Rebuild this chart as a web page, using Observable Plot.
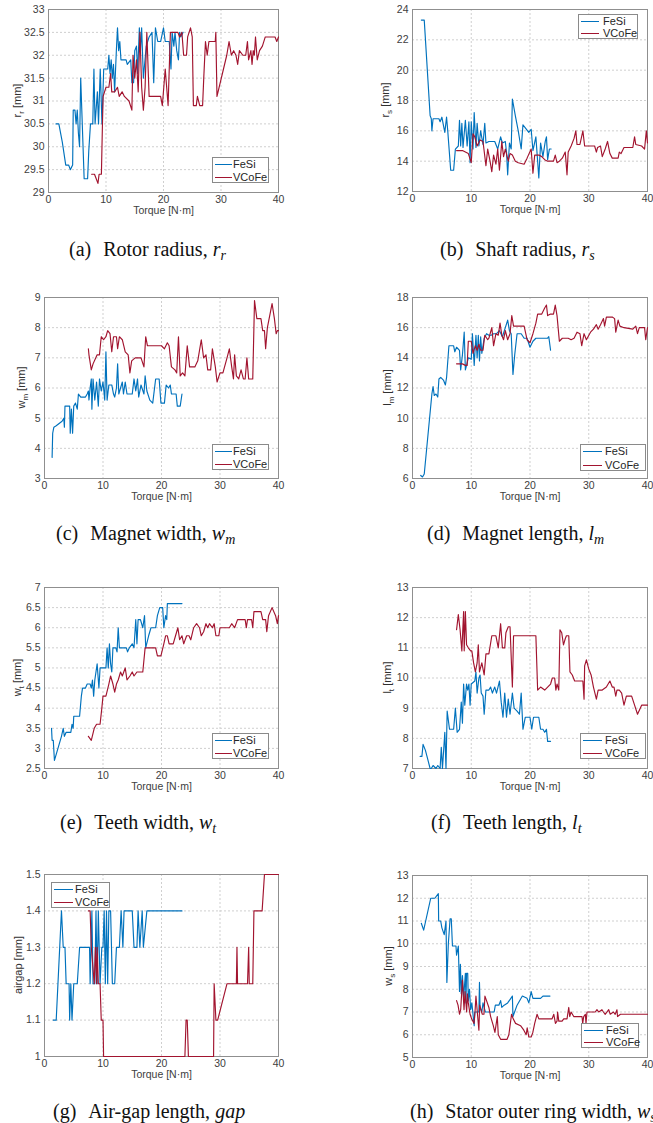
<!DOCTYPE html>
<html><head><meta charset="utf-8">
<script src="https://cdn.jsdelivr.net/npm/d3@7"></script>
<script src="https://cdn.jsdelivr.net/npm/@observablehq/plot@0.6"></script>
<style>
body{margin:0;background:#fff;}
#root{position:relative;width:653px;height:1123px;overflow:hidden;background:#fff;}
.cap{position:absolute;font-family:"Liberation Serif","Times New Roman",serif;font-size:20px;color:#111;white-space:nowrap;line-height:20px;}
.cap sub{font-size:14px;vertical-align:-4px;line-height:0;}
.leg{position:absolute;background:#fff;border:1px solid #8a8a8a;box-sizing:border-box;font-family:"Liberation Sans",Arial,sans-serif;font-size:11px;color:#262626;}
.leg .ln{position:absolute;height:0;border-top:1.3px solid;}
.leg .tx{position:absolute;line-height:12px;margin-top:-6px;white-space:nowrap;}
</style></head>
<body><div id="root"></div>
<script>
// ---------- data ----------
const seriesNames = ["FeSi", "VCoFe"];
const seriesColors = ["#0072BD", "#A2142F"];
const xTicks = [0, 10, 20, 30, 40];
const xLabel = "Torque [N·m]";

const rrTicks = [29, 29.5, 30, 30.5, 31, 31.5, 32, 32.5, 33];
const rsTicks = [12, 14, 16, 18, 20, 22, 24];
const wmTicks = [3, 4, 5, 6, 7, 8, 9];
const lmTicks = [6, 8, 10, 12, 14, 16, 18];
const wtTicks = [2.5, 3, 3.5, 4, 4.5, 5, 5.5, 6, 6.5, 7];
const ltTicks = [7, 8, 9, 10, 11, 12, 13];
const gapTicks = [1, 1.1, 1.2, 1.3, 1.4, 1.5];
const wsTicks = [5, 6, 7, 8, 9, 10, 11, 12, 13];

const rrFeSi = [[1.3,30.5],[1.8,30.5],[2.4,30.1],[3.0,29.6],[3.5,29.6],[3.8,29.5],[4.2,29.6],[4.3,30.8],[4.6,30.8],[4.8,30.5],[5.0,30.8],[5.2,30.3],[5.4,30.0],[5.6,31.5],[6.2,29.3],[6.8,29.3],[7.0,29.9],[7.3,30.5],[7.7,30.5],[7.9,31.7],[8.1,30.5],[8.5,31.2],[8.7,30.5],[9.0,31.7],[9.3,30.5],[9.6,31.7],[10.3,31.7],[10.5,32.0],[10.7,31.6],[10.9,31.9],[11.1,31.5],[11.3,31.8],[11.5,31.2],[11.8,32.1],[12.0,32.6],[12.2,32.1],[12.4,32.3],[12.6,31.9],[13.5,31.9],[13.7,31.8],[14.3,31.9],[14.5,31.4],[14.8,31.4],[15.0,32.1],[15.3,32.2],[15.5,31.6],[15.8,32.6],[16.0,32.1],[16.2,32.6],[16.5,31.5],[17.0,32.2],[17.5,32.4],[18.0,32.5],[18.3,31.4],[18.6,32.6],[19.0,32.3],[19.5,32.3],[20.0,32.6],[20.3,32.3],[21.0,32.3],[21.3,31.7],[21.5,32.5],[21.8,32.2],[22.0,32.5],[22.3,32.1],[22.6,31.9],[22.8,32.5],[23.0,32.4],[23.4,32.5]];
const rrVCoFe = [[7.5,29.4],[8.0,29.4],[8.3,29.3],[8.6,29.2],[8.8,29.4],[9.2,29.4],[9.4,30.6],[9.5,31.1],[10.0,31.3],[10.5,31.3],[10.8,31.6],[11.0,31.2],[11.5,31.2],[12.0,31.3],[12.3,31.1],[12.8,31.2],[13.2,31.1],[14.0,31.0],[14.5,30.8],[14.7,32.0],[15.0,31.5],[15.3,31.9],[15.6,31.2],[15.9,32.5],[16.2,31.3],[16.5,30.8],[16.8,31.3],[17.1,32.5],[17.5,31.1],[18.0,31.1],[19.5,31.1],[19.8,30.9],[20.3,31.7],[20.8,30.9],[21.2,32.5],[22.5,32.5],[22.8,32.4],[23.2,32.5],[23.5,32.0],[24.0,32.0],[24.2,32.4],[24.7,32.6],[25.0,32.4],[25.2,30.9],[25.7,30.9],[25.9,31.1],[26.3,30.9],[26.8,30.9],[27.0,31.5],[27.3,32.3],[27.6,32.0],[27.9,32.3],[29.0,32.3],[29.1,32.5],[29.3,31.1],[31.0,32.0],[31.4,32.3],[31.8,32.0],[32.2,32.1],[32.6,32.0],[32.9,31.8],[33.2,32.1],[33.8,32.0],[34.3,32.0],[34.6,32.3],[34.8,31.9],[35.2,32.1],[35.4,31.8],[35.6,32.1],[35.8,32.0],[36.0,32.4],[36.3,31.9],[36.7,32.1],[37.2,32.2],[37.7,32.4],[39.4,32.4],[39.7,32.3],[40.0,32.4]];

const rsFeSi = [[1.5,23.3],[2.0,23.3],[3.0,17.0],[3.2,16.8],[3.3,16.0],[3.5,16.8],[4.5,16.8],[4.7,16.6],[5.0,16.9],[5.3,16.3],[5.5,15.9],[5.8,16.9],[6.0,16.0],[6.5,13.4],[7.0,13.4],[7.3,14.8],[7.8,15.0],[8.0,16.7],[8.2,15.0],[8.4,16.5],[8.6,14.9],[9.0,16.7],[9.3,15.0],[9.6,16.6],[9.8,13.9],[10.0,16.6],[10.3,14.8],[10.5,17.2],[10.8,14.9],[11.0,16.5],[11.3,15.0],[11.6,16.0],[12.0,15.1],[12.3,16.5],[12.5,15.2],[13.0,15.3],[14.0,15.3],[14.5,14.8],[15.0,15.6],[15.3,15.2],[15.8,15.3],[16.0,14.6],[16.2,13.1],[16.5,15.2],[16.8,14.8],[17.0,18.1],[17.5,17.0],[18.0,16.0],[18.5,14.8],[18.8,16.4],[19.2,16.2],[19.8,15.9],[20.2,16.1],[20.5,14.7],[21.0,15.6],[21.3,14.0],[21.5,12.9],[21.8,15.2],[22.2,14.3],[22.6,15.3],[22.8,15.6],[23.0,14.1],[23.3,14.8],[23.6,14.8]];
const rsVCoFe = [[7.5,14.7],[8.5,14.7],[9.5,14.5],[10.0,13.9],[10.3,15.8],[10.6,15.6],[11.0,15.0],[11.5,15.4],[12.0,15.3],[12.5,13.7],[12.8,14.8],[13.2,14.0],[13.5,13.3],[13.8,14.4],[14.2,13.8],[14.5,14.8],[14.8,13.4],[15.2,15.3],[15.5,14.3],[15.8,14.8],[16.3,14.0],[16.6,14.5],[17.0,14.4],[17.5,14.0],[18.0,13.9],[19.0,13.8],[19.5,14.2],[20.2,14.8],[20.5,13.2],[20.8,14.4],[21.5,14.4],[22.0,14.3],[22.5,14.1],[23.0,14.0],[24.0,14.0],[24.3,14.4],[24.6,13.9],[25.0,14.0],[25.5,14.2],[26.0,14.6],[26.3,13.1],[26.5,14.6],[27.0,15.0],[27.5,15.5],[27.8,16.0],[28.0,15.1],[28.5,15.1],[29.0,16.0],[29.3,15.0],[30.0,15.0],[31.0,15.0],[31.3,14.6],[31.5,14.9],[32.0,15.0],[32.3,14.3],[32.8,14.8],[33.2,15.3],[33.6,14.5],[34.0,14.2],[35.0,14.2],[35.2,14.6],[35.5,14.5],[36.0,14.9],[37.5,14.9],[37.8,15.6],[38.0,15.1],[39.0,15.0],[39.5,14.8],[39.8,16.0],[40.0,15.2]];

const wmFeSi = [[1.3,3.7],[1.4,4.5],[1.6,4.7],[2.0,4.75],[3.0,4.9],[3.3,5.0],[3.4,4.7],[3.5,5.4],[4.3,5.4],[4.4,4.5],[4.6,5.3],[4.8,4.5],[5.0,5.4],[5.3,5.5],[5.6,5.3],[5.8,5.8],[6.2,5.7],[7.0,5.7],[7.3,5.8],[7.5,5.9],[7.6,5.6],[7.8,6.0],[8.0,6.3],[8.1,5.3],[8.3,6.3],[8.6,5.6],[8.9,6.2],[9.2,5.4],[9.4,6.3],[9.7,5.9],[10.0,6.2],[10.3,5.6],[10.5,7.2],[10.7,5.6],[11.0,6.1],[11.5,6.1],[11.8,5.8],[12.0,5.7],[12.3,6.0],[12.5,6.8],[12.7,5.8],[13.0,6.0],[13.3,6.2],[13.5,5.8],[13.8,6.2],[14.1,5.8],[15.0,5.8],[15.3,6.3],[15.6,5.9],[15.9,6.3],[16.1,5.7],[16.5,6.1],[17.0,5.8],[17.2,6.4],[17.5,5.9],[18.0,5.6],[18.5,5.5],[19.0,6.3],[19.6,6.3],[19.9,5.5],[20.5,5.5],[20.8,6.1],[21.2,6.0],[21.5,6.1],[21.7,5.8],[22.5,5.8],[22.7,5.4],[23.2,5.4],[23.5,5.8]];
const wmVCoFe = [[7.5,7.3],[7.6,7.1],[8.0,6.6],[8.3,6.8],[9.0,7.1],[9.4,7.1],[9.7,7.7],[10.1,7.6],[10.5,7.7],[10.8,7.9],[11.2,7.8],[11.5,7.2],[11.8,7.7],[12.3,7.7],[12.5,7.3],[12.8,7.7],[13.3,7.6],[13.8,7.2],[14.3,7.1],[14.6,6.5],[14.9,6.9],[15.5,7.0],[16.5,7.0],[17.0,6.7],[17.3,7.7],[17.6,7.4],[20.0,7.4],[20.5,7.3],[21.0,7.5],[21.3,7.4],[21.7,6.7],[22.3,6.6],[22.6,6.5],[22.9,7.7],[23.2,6.4],[23.6,6.5],[24.0,6.4],[24.4,7.4],[24.8,6.7],[25.7,6.7],[26.2,6.9],[26.8,7.6],[27.2,7.0],[27.6,7.1],[27.9,6.6],[28.4,6.6],[28.7,7.3],[29.2,6.7],[29.5,6.2],[30.0,6.5],[30.5,6.5],[31.2,7.0],[31.6,7.3],[32.0,6.7],[32.3,6.3],[32.5,7.1],[32.8,6.4],[33.2,6.3],[33.6,6.6],[34.0,6.3],[34.3,6.3],[34.6,7.0],[34.9,6.3],[35.6,6.3],[35.9,8.9],[36.3,8.3],[37.0,8.3],[37.3,7.9],[37.6,7.9],[37.8,7.3],[38.1,8.0],[38.9,8.8],[39.3,8.3],[39.6,7.8],[39.8,7.9],[40.0,7.9]];

const lmFeSi = [[1.4,6.2],[1.7,6.1],[2.0,6.3],[3.3,11.6],[3.5,12.1],[3.7,11.5],[4.0,11.6],[4.3,11.4],[4.5,12.6],[4.8,12.7],[5.3,12.5],[5.6,12.2],[5.8,12.7],[6.2,14.8],[6.8,14.8],[7.0,14.8],[7.2,14.4],[7.5,14.7],[8.0,14.5],[8.2,13.2],[8.5,14.2],[8.8,15.7],[9.0,13.2],[9.2,13.5],[9.5,14.0],[10.0,13.9],[10.2,15.6],[10.5,13.5],[10.8,15.5],[11.0,14.0],[11.2,15.5],[11.4,13.8],[11.6,15.4],[11.8,14.3],[12.2,15.3],[12.6,15.6],[13.0,15.5],[13.4,15.5],[13.8,15.6],[14.3,15.6],[14.8,15.8],[15.3,15.4],[15.8,16.0],[16.2,16.5],[16.5,15.8],[16.8,15.6],[17.1,12.9],[17.4,14.2],[17.8,15.6],[18.5,15.6],[19.0,15.3],[19.5,15.3],[20.0,14.7],[20.5,15.1],[21.0,15.3],[23.0,15.3],[23.2,15.4],[23.5,14.5]];
const lmVCoFe = [[7.5,13.6],[8.5,13.6],[9.0,13.5],[9.3,13.5],[9.5,15.1],[10.0,15.1],[10.3,14.3],[10.7,14.8],[11.0,14.5],[11.3,14.9],[11.6,14.5],[12.0,14.5],[12.3,15.5],[12.8,15.2],[13.0,15.3],[13.5,16.0],[13.8,14.8],[14.2,15.6],[14.6,15.5],[14.9,16.3],[15.2,15.5],[15.5,15.2],[15.8,15.8],[16.2,15.2],[16.6,15.6],[16.9,16.8],[17.2,16.1],[19.0,16.1],[19.5,15.2],[20.0,15.0],[20.5,15.6],[21.0,16.3],[21.3,16.9],[22.0,16.9],[22.5,17.3],[22.8,17.5],[23.0,16.8],[23.5,16.9],[24.0,16.9],[24.3,17.5],[24.6,16.8],[25.0,15.1],[25.5,15.3],[26.5,15.3],[27.0,15.2],[27.5,15.3],[28.0,15.7],[28.5,15.6],[28.8,14.8],[29.2,15.6],[29.6,15.2],[30.3,15.7],[30.8,15.9],[31.3,16.2],[31.6,15.9],[32.0,16.2],[32.5,16.6],[32.7,16.1],[33.0,16.7],[34.0,16.7],[34.4,16.6],[34.6,15.7],[35.0,16.5],[35.3,16.1],[36.0,16.0],[37.5,15.9],[38.0,16.1],[38.3,15.6],[38.6,16.0],[39.5,16.0],[39.7,15.2],[40.0,16.0]];

const wtFeSi = [[1.2,3.5],[1.3,3.2],[1.5,3.2],[1.7,2.7],[2.1,2.9],[2.5,3.1],[2.9,3.3],[3.2,3.5],[3.4,3.3],[3.7,3.4],[4.5,3.4],[4.7,3.6],[4.9,3.5],[5.0,3.8],[6.0,3.8],[6.3,4.3],[6.5,4.5],[7.0,4.5],[7.3,4.6],[7.8,4.6],[8.0,4.5],[8.2,4.7],[8.4,4.3],[8.6,4.7],[9.0,5.1],[9.3,4.5],[9.5,5.0],[10.5,5.0],[10.7,5.5],[10.9,5.0],[11.1,5.6],[11.3,5.1],[11.5,4.9],[11.7,5.5],[12.2,5.5],[12.4,5.4],[12.6,6.0],[12.8,5.5],[14.0,5.5],[14.2,5.4],[14.5,5.5],[15.0,5.6],[15.3,5.5],[15.6,6.2],[15.8,5.6],[16.0,6.2],[16.4,6.2],[16.8,6.0],[17.1,6.3],[17.3,5.5],[17.8,5.8],[18.2,6.0],[19.0,6.0],[19.3,6.3],[19.7,6.5],[20.2,6.5],[20.4,6.0],[20.7,6.3],[20.9,6.2],[21.0,6.6],[23.5,6.6]];
const wtVCoFe = [[7.5,3.3],[8.0,3.2],[8.5,3.5],[8.9,3.6],[9.5,3.6],[9.8,4.0],[10.0,4.3],[10.5,4.3],[11.0,4.6],[11.3,4.8],[11.7,4.6],[12.0,4.4],[12.3,4.6],[12.6,4.7],[13.0,4.9],[13.3,4.8],[13.8,5.0],[14.1,4.7],[14.6,4.8],[15.0,4.9],[15.3,4.8],[15.8,4.9],[16.8,4.9],[17.2,5.5],[19.0,5.5],[19.3,5.3],[19.9,5.3],[20.4,5.6],[20.7,5.8],[21.0,5.8],[21.3,5.6],[22.0,5.6],[22.4,5.8],[22.8,6.0],[23.1,5.7],[23.5,5.8],[23.8,5.6],[24.3,5.8],[24.7,5.8],[25.0,5.7],[25.5,6.0],[26.0,6.1],[26.5,6.0],[26.8,5.8],[27.2,5.9],[27.6,6.1],[27.9,6.0],[28.2,6.1],[28.7,6.0],[29.0,6.1],[29.3,5.8],[29.8,5.8],[30.0,6.0],[31.6,6.0],[32.0,6.1],[32.5,6.0],[33.0,6.2],[34.3,6.2],[34.5,6.0],[34.7,6.2],[35.4,6.2],[35.6,6.0],[35.8,6.4],[37.0,6.4],[37.3,6.2],[37.8,6.2],[38.0,5.9],[38.3,6.3],[38.9,6.5],[39.5,6.3],[39.8,6.1],[40.0,6.3]];

const ltFeSi = [[1.3,7.4],[1.6,7.4],[1.8,7.8],[2.2,7.6],[2.6,7.3],[3.0,7.0],[3.2,7.0],[3.5,7.1],[4.0,7.0],[4.3,7.1],[4.7,7.0],[4.9,7.7],[5.1,7.0],[5.5,8.2],[5.7,7.0],[5.9,8.9],[6.3,8.3],[7.0,8.3],[7.3,9.0],[7.6,8.2],[8.0,8.3],[8.3,9.2],[8.5,8.5],[8.7,9.8],[8.9,9.1],[9.2,9.8],[9.4,9.6],[9.6,9.8],[9.8,9.1],[10.0,9.8],[10.6,9.9],[10.8,10.2],[11.0,9.5],[11.3,10.0],[11.5,10.1],[11.7,9.5],[12.0,9.4],[12.2,8.8],[12.5,9.6],[13.0,9.6],[13.3,9.7],[13.6,9.5],[14.0,9.7],[14.3,9.5],[14.8,9.9],[15.1,9.2],[15.4,8.7],[15.7,9.5],[16.0,8.7],[16.3,9.3],[16.6,8.8],[17.0,9.5],[17.3,9.0],[17.8,8.9],[18.2,8.8],[18.5,9.5],[18.8,8.3],[19.2,8.7],[20.0,8.7],[20.3,8.3],[20.6,8.7],[21.5,8.7],[21.8,8.3],[22.2,8.3],[22.5,8.2],[22.8,8.3],[23.0,7.9],[23.5,7.9]];
const ltVCoFe = [[7.5,11.6],[7.8,12.1],[8.1,11.6],[8.4,10.9],[8.7,12.2],[8.8,10.9],[9.0,12.2],[9.2,11.1],[9.5,11.0],[9.9,10.9],[10.1,10.9],[10.4,10.5],[10.7,10.2],[11.0,10.5],[11.2,11.1],[11.4,10.2],[11.8,10.5],[12.2,10.1],[12.5,10.8],[13.0,10.8],[13.5,11.4],[14.2,11.4],[14.6,11.0],[15.0,11.8],[15.3,11.0],[15.7,11.0],[15.9,11.5],[16.3,11.7],[16.6,11.7],[17.0,9.7],[17.2,11.4],[21.0,11.4],[21.3,9.6],[21.8,9.7],[22.5,9.6],[23.0,9.7],[23.5,9.8],[23.8,10.0],[24.2,10.0],[24.4,9.6],[24.6,9.8],[24.9,9.6],[25.1,11.6],[25.4,11.5],[25.7,11.1],[26.0,11.3],[26.2,11.4],[26.6,11.4],[26.8,10.2],[27.2,10.1],[27.6,9.9],[29.0,9.9],[29.2,9.3],[29.3,10.4],[29.6,10.6],[30.0,10.3],[30.4,10.1],[30.8,9.7],[31.3,9.3],[31.6,9.6],[32.3,9.6],[33.0,9.7],[33.6,9.9],[34.0,9.7],[34.3,9.7],[34.6,9.4],[34.8,9.6],[35.2,9.6],[35.6,9.5],[36.0,9.1],[36.4,9.4],[37.3,9.4],[37.8,9.1],[38.3,8.8],[39.0,9.1],[40.0,9.1]];

const gapFeSi = [[1.5,1.1],[2.0,1.1],[2.9,1.4],[3.2,1.3],[3.5,1.3],[3.7,1.2],[4.2,1.2],[4.3,1.1],[4.5,1.2],[4.7,1.1],[5.0,1.2],[5.6,1.2],[6.0,1.3],[7.7,1.3],[7.8,1.2],[8.1,1.4],[8.3,1.2],[8.6,1.2],[8.8,1.4],[9.0,1.2],[9.2,1.4],[9.5,1.2],[9.8,1.3],[10.0,1.3],[10.2,1.4],[10.4,1.2],[10.6,1.4],[10.8,1.2],[11.0,1.4],[11.3,1.4],[11.6,1.2],[12.0,1.2],[12.3,1.3],[12.8,1.3],[13.1,1.4],[13.4,1.3],[13.6,1.4],[15.0,1.4],[15.3,1.3],[15.8,1.3],[16.0,1.4],[16.3,1.3],[16.7,1.4],[16.9,1.3],[17.5,1.4],[18.0,1.4],[23.5,1.4]];
const gapVCoFe = [[7.5,1.4],[7.8,1.4],[8.0,1.3],[8.5,1.2],[8.7,1.3],[8.9,1.2],[9.0,1.3],[9.2,1.2],[9.5,1.2],[9.7,1.1],[10.0,1.1],[10.1,1.0],[24.0,1.0],[24.2,1.1],[24.4,1.1],[24.6,1.0],[28.9,1.0],[29.0,1.2],[29.3,1.1],[29.6,1.1],[31.2,1.2],[32.8,1.2],[32.9,1.3],[33.0,1.2],[34.7,1.2],[34.9,1.3],[35.0,1.2],[35.6,1.2],[35.8,1.4],[37.2,1.4],[37.6,1.5],[40.0,1.5]];

const wsFeSi = [[1.5,10.9],[1.9,10.6],[3.1,12.0],[3.8,12.0],[4.4,12.2],[4.45,11.0],[4.8,11.0],[5.0,10.7],[5.4,10.4],[5.7,11.0],[5.85,8.3],[6.1,10.0],[6.4,11.1],[6.6,11.1],[6.8,9.9],[7.4,9.9],[7.5,9.5],[7.8,9.9],[8.0,7.9],[8.15,9.1],[8.3,7.8],[8.5,8.6],[8.7,7.6],[9.0,8.7],[9.1,7.4],[9.2,8.7],[9.4,8.7],[9.5,7.5],[9.7,8.0],[9.9,7.1],[10.1,7.4],[10.5,6.4],[10.6,7.0],[10.9,7.0],[11.3,7.0],[11.4,8.3],[11.5,7.2],[11.8,7.0],[12.0,7.4],[12.4,7.0],[13.9,7.0],[14.1,7.3],[14.7,7.3],[15.0,7.5],[15.2,7.2],[15.6,7.3],[16.2,7.4],[17.0,7.7],[17.1,6.8],[17.8,7.3],[18.7,7.7],[19.5,7.6],[19.8,7.4],[20.2,7.9],[20.5,7.6],[21.8,7.6],[22.2,7.7],[23.4,7.7]];
const wsVCoFe = [[7.5,7.5],[7.75,7.3],[8.0,6.9],[8.2,7.1],[8.5,8.4],[8.77,7.1],[8.94,7.9],[9.22,7.0],[9.34,7.8],[9.5,7.4],[9.8,6.9],[10.07,6.7],[10.47,6.5],[10.64,7.0],[10.8,7.7],[11.03,7.0],[11.3,6.2],[11.43,7.3],[11.88,6.9],[12.16,6.9],[12.33,7.7],[12.6,7.5],[13.0,7.2],[13.3,6.8],[13.75,6.4],[14.03,6.1],[14.43,6.8],[14.6,6.0],[15.0,5.8],[16.1,5.8],[16.4,6.0],[16.86,6.9],[17.14,6.7],[17.54,6.5],[18.39,6.4],[18.95,6.2],[19.35,6.0],[19.52,6.3],[19.8,5.9],[20.2,5.9],[20.48,6.1],[20.8,6.5],[21.2,6.9],[21.5,6.7],[23.76,6.7],[24.05,6.9],[24.33,6.5],[24.6,6.6],[24.7,7.0],[24.9,6.6],[25.46,6.6],[25.74,6.7],[26.3,6.7],[26.6,7.2],[26.76,6.8],[26.99,7.0],[27.44,6.8],[28.85,6.8],[28.97,6.5],[29.14,6.8],[29.42,6.9],[29.53,6.5],[29.7,7.0],[31.1,7.0],[31.4,7.1],[31.7,7.0],[32.25,7.1],[32.5,7.0],[32.8,6.9],[33.4,7.1],[33.66,6.9],[34.2,7.0],[34.5,6.9],[34.8,7.1],[34.9,6.8],[35.4,6.9],[40.0,6.9]];

// ---------- layout ----------
const panels = [
  {col:0, pl:48, pt:9,   pb:192, dom:[29,33],   ticks:rrTicks,  fe:rrFeSi,  vc:rrVCoFe,  yl:["r","r"], ylx:17, leg:[212,157,57,26,17,21], cap:[69,249,"(a)","Rotor radius,",'<i>r</i><sub><i>r</i></sub>']},
  {col:1, pl:412,pt:9,   pb:191, dom:[12,24],   ticks:rsTicks,  fe:rsFeSi,  vc:rsVCoFe,  yl:["r","s"], ylx:385, leg:[578,14,60,25,18,25], cap:[440,249,"(b)","Shaft radius,",'<i>r</i><sub><i>s</i></sub>']},
  {col:0, pl:44, pt:297, pb:478, dom:[3,9],     ticks:wmTicks,  fe:wmFeSi,  vc:wmVCoFe,  yl:["w","m"], ylx:21, leg:[212,444,57,26,17,21], cap:[56,533,"(c)","Magnet width,",'<i>w</i><sub><i>m</i></sub>']},
  {col:1, pl:412,pt:297, pb:478, dom:[6,18],    ticks:lmTicks,  fe:lmFeSi,  vc:lmVCoFe,  yl:["l","m"], ylx:387, leg:[580,444,66,27,19,25], cap:[427,533,"(d)","Magnet length,",'<i>l</i><sub><i>m</i></sub>']},
  {col:0, pl:44, pt:587, pb:768, dom:[2.5,7],   ticks:wtTicks,  fe:wtFeSi,  vc:wtVCoFe,  yl:["w","t"], ylx:17, leg:[212,733,57,26,17,21], cap:[60,822,"(e)","Teeth width,",'<i>w</i><sub><i>t</i></sub>']},
  {col:1, pl:412,pt:587, pb:768, dom:[7,13],    ticks:ltTicks,  fe:ltFeSi,  vc:ltVCoFe,  yl:["l","t"], ylx:387, leg:[580,733,66,26,19,25], cap:[431,822,"(f)","Teeth length,",'<i>l</i><sub><i>t</i></sub>']},
  {col:0, pl:44, pt:874, pb:1056,dom:[1,1.5],   ticks:gapTicks, fe:gapFeSi, vc:gapVCoFe, yl:["airgap",""], ylx:18, leg:[51,882,59,26,19,24], cap:[53,1111,"(g)","Air-gap length,",'<i>gap</i>']},
  {col:1, pl:412,pt:875, pb:1057,dom:[5,13],    ticks:wsTicks,  fe:wsFeSi,  vc:wsVCoFe,  yl:["w","s"], ylx:388, leg:[581,1023,58,25,19,25], cap:[410,1111,"(h)","Stator outer ring width,",'<i>w</i><sub><i>s</i></sub>']}
];

const root = document.getElementById("root");
const fmt = d => String(d);

for (const p of panels) {
  const left = p.col === 0 ? 0 : 360;
  const width = p.col === 0 ? 300 : 293;
  const pr = p.col === 0 ? 278 : 647;
  const mt = 9, mb = 36;
  const ph = p.pb - p.pt;
  const data = [
    ...p.fe.map(([x, y]) => ({x, y, s: seriesNames[0]})),
    ...p.vc.map(([x, y]) => ({x, y, s: seriesNames[1]}))
  ];
  const svg = Plot.plot({
    width, height: mt + ph + mb,
    marginLeft: p.pl - left, marginRight: left + width - pr, marginTop: mt, marginBottom: mb,
    style: {fontFamily: '"Liberation Sans", Arial, sans-serif', fontSize: "10.5px", color: "#404040", background: "transparent", overflow: "visible"},
    x: {domain: [0, 40]},
    y: {domain: p.dom},
    color: {domain: seriesNames, range: seriesColors},
    marks: [
      Plot.gridX(xTicks, {stroke: "#cfcfcf", strokeOpacity: 1, strokeDasharray: "2,2"}),
      Plot.gridY(p.ticks, {stroke: "#cfcfcf", strokeOpacity: 1, strokeDasharray: "2,2"}),
      Plot.frame({stroke: "#8f8f8f", strokeWidth: 1}),
      Plot.line(data, {x: "x", y: "y", z: "s", stroke: "s", strokeWidth: 1.15}),
      Plot.axisX(xTicks, {tickSize: 0, tickPadding: 3, tickFormat: fmt, label: null}),
      Plot.axisY(p.ticks, {tickSize: 0, tickPadding: 4, tickFormat: fmt, label: null}),
      Plot.text([xLabel], {text: d => d, frameAnchor: "bottom", dy: 21, fill: "#404040", fontSize: 10.5})
    ]
  });
  svg.style.position = "absolute";
  svg.style.left = left + "px";
  svg.style.top = (p.pt - mt) + "px";
  svg.style.maxWidth = "none";
  // y-axis label with subscript
  const t = d3.select(svg).append("text")
    .attr("transform", `translate(${p.ylx - left},${mt + ph / 2}) rotate(-90)`)
    .attr("text-anchor", "middle").attr("fill", "#303030")
    .attr("font-size", 11).attr("dy", "0.35em");
  t.append("tspan").text(p.yl[0]);
  if (p.yl[1]) {
    t.append("tspan").attr("dy", 3).attr("font-size", 8).text(p.yl[1]);
    t.append("tspan").attr("dy", -3).text(" [mm]");
  } else {
    t.append("tspan").text(" [mm]");
  }
  root.appendChild(svg);

  // legend
  const [lx, ly, lw, lh, llen, toff] = p.leg;
  const lg = document.createElement("div");
  lg.className = "leg";
  lg.style.cssText = `left:${lx}px;top:${ly}px;width:${lw}px;height:${lh}px;`;
  const rows = [Math.round(lh * 0.27), Math.round(lh * 0.76)];
  seriesNames.forEach((name, i) => {
    const ln = document.createElement("div");
    ln.className = "ln";
    ln.style.cssText = `left:2px;width:${llen}px;top:${rows[i] - 1}px;border-color:${seriesColors[i]};`;
    const tx = document.createElement("div");
    tx.className = "tx";
    tx.style.cssText = `left:${toff - 1}px;top:${rows[i] - 1}px;`;
    tx.textContent = name;
    lg.appendChild(ln); lg.appendChild(tx);
  });
  root.appendChild(lg);

  // caption
  const c = document.createElement("div");
  c.className = "cap";
  c.style.left = p.cap[0] + "px";
  c.style.top = (p.cap[1] - 10) + "px";
  c.innerHTML = `${p.cap[2]}<span style="margin-left:12px">${p.cap[3]}</span> ${p.cap[4]}`;
  root.appendChild(c);
}
</script>
</body></html>
